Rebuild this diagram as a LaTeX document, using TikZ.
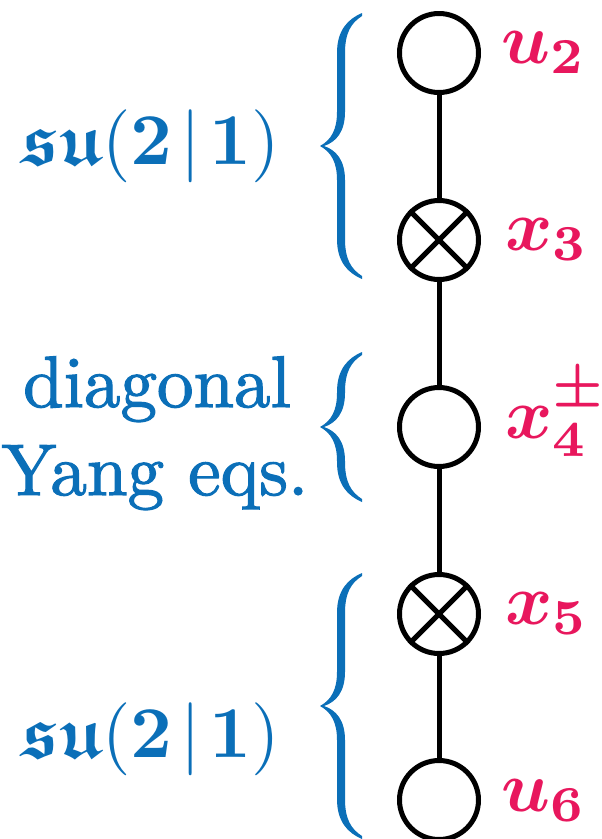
\documentclass[tikz,border=0pt]{standalone}
\usepackage{amsmath,amssymb}
\usepackage{graphicx}
\usepackage[no-math]{fontspec}
\newfontfamily\heavyrm[Extension=.otf,FakeBold=1.6]{lmroman10-regular}
\definecolor{bluec}{HTML}{0B6FB8}
\definecolor{magc}{HTML}{E8175D}
\newcommand\bluebrace[3]{%
  \fill[bluec,shift={(#1,#2)}]
   (0,0) .. controls (11,-6) and (17,-16) .. (17,-34)
   -- (17,{-#3+40}) .. controls (17,{-#3+17}) and (28,{-#3+6}) .. (42,{-#3})
   -- (42,{-#3+3}) .. controls (31,{-#3+10}) and (25,{-#3+20}) .. (25,{-#3+40})
   -- (25,-34) .. controls (25,-14) and (16,-4) .. (4,0)
   .. controls (16,4) and (25,14) .. (25,34)
   -- (25,{#3-40}) .. controls (25,{#3-20}) and (31,{#3-10}) .. (42,{#3-3})
   -- (42,{#3}) .. controls (28,{#3-6}) and (17,{#3-17}) .. (17,{#3-40})
   -- (17,34) .. controls (17,16) and (11,6) .. (0,0) -- cycle;}
\begin{document}
\begin{tikzpicture}[x=1pt,y=-1pt,
  vtx/.style={circle,draw,line width=5pt,minimum size=79pt,inner sep=0pt},
  bond/.style={line width=5pt},
  lab/.style={anchor=base west,inner sep=0pt,text=magc},
  grp/.style={anchor=base west,inner sep=0pt,text=bluec},
  txt/.style={anchor=base,inner sep=0pt,text=bluec,font=\heavyrm\fontsize{73}{86}\selectfont}]
\useasboundingbox (0,0) rectangle (602,839);
\node[vtx] (u2) at (439,53) {};
\node[vtx] (x3) at (439,240) {};
\node[vtx] (x4) at (439,427) {};
\node[vtx] (x5) at (439,614) {};
\node[vtx] (u6) at (439,800) {};
\draw[bond] (u2) -- (x3);
\draw[bond] (x3) -- (x4);
\draw[bond] (x4) -- (x5);
\draw[bond] (x5) -- (u6);
\draw[bond] (x3.north west) -- (x3.south east);
\draw[bond] (x3.north east) -- (x3.south west);
\draw[bond] (x5.north west) -- (x5.south east);
\draw[bond] (x5.north east) -- (x5.south west);
\node[lab] (lu2) at (501,63) {\scalebox{7.2}{$\boldsymbol{u_2}$}};
\node[lab] (lx3) at (505,250) {\scalebox{7.2}{$\boldsymbol{x_3}$}};
\node[lab] (lx4) at (505,438) {\scalebox{7.2}{$\boldsymbol{x_4^{\pm}}$}};
\node[lab] (lx5) at (505,624) {\scalebox{7.2}{$\boldsymbol{x_5}$}};
\node[lab] (lu6) at (501,811) {\scalebox{7.2}{$\boldsymbol{u_6}$}};
\bluebrace{320}{146}{133}
\bluebrace{320}{427}{75}
\bluebrace{320}{706}{133}
\node[grp] (su1) at (21,164) {\scalebox{7.3}{$\boldsymbol{\mathfrak{su}}(\mathbf{2}\mkern2mu|\mkern2mu\mathbf{1})$}};
\node[grp] (su2) at (21,757) {\scalebox{7.3}{$\boldsymbol{\mathfrak{su}}(\mathbf{2}\mkern2mu|\mkern2mu\mathbf{1})$}};
\node[txt] (dg) at (157,407) {diagonal};
\node[txt] (ye) at (155,495) {Yang eqs.};
\end{tikzpicture}
\end{document}
